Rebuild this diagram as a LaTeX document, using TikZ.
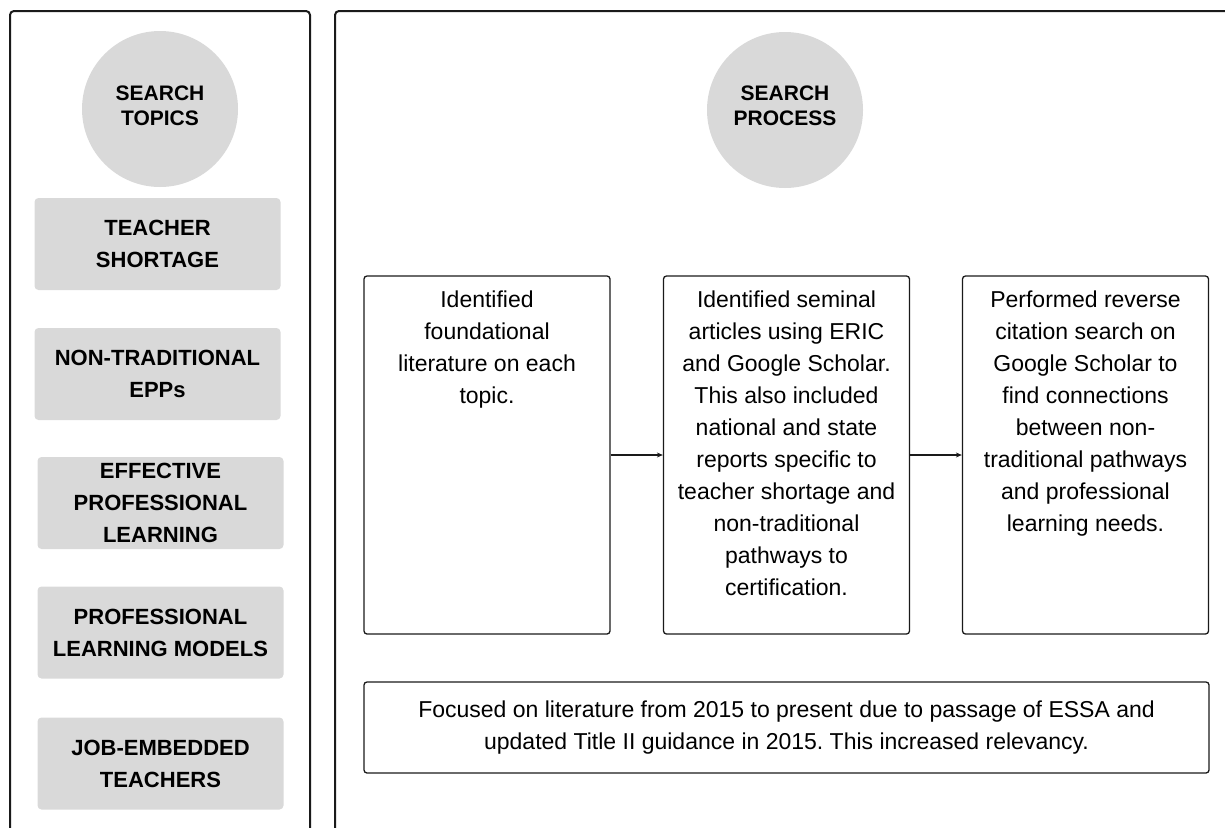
\documentclass[tikz,border=0pt]{standalone}
\usepackage{fontspec}
\setmainfont{Liberation Sans}
\usetikzlibrary{arrows.meta}
\definecolor{boxgray}{HTML}{D9D9D9}
\definecolor{inkline}{HTML}{1A1A1A}
\frenchspacing
\begin{document}
\begin{tikzpicture}[x=1pt,y=-1pt,
  panel/.style={draw=inkline, line width=2pt, rounded corners=4pt},
  topic/.style={fill=boxgray, rounded corners=4pt, minimum width=246pt, minimum height=92pt, align=center, inner sep=0pt, font=\bfseries\fontsize{22}{32}\selectfont},
  hub/.style={circle, fill=boxgray, minimum size=156pt, inner sep=0pt},
  hubtext/.style={align=center, inner sep=0pt, font=\bfseries\fontsize{21}{25}\selectfont},
  stepbox/.style={draw=inkline, line width=1.3pt, rounded corners=3pt, minimum width=246pt, minimum height=358pt, inner sep=0pt},
  notebox/.style={draw=inkline, line width=1.3pt, rounded corners=3pt, minimum width=845pt, minimum height=91pt, inner sep=0pt, align=center, font=\fontsize{23}{32}\selectfont},
  body/.style={align=center, inner sep=0pt, anchor=north, font=\fontsize{23}{32}\selectfont},
  flow/.style={draw=inkline, line width=1.2pt, -{Stealth[length=6pt,width=5pt]}}
]
\useasboundingbox (0,0) rectangle (1225,827);

% panels
\draw[panel] (10,830) -- (10,11) -- (310,11) -- (310,830);
\draw[panel] (335,830) -- (335,11) -- (1235,11);

% hubs
\node[hub] (topics) at (160,109) {};
\node[hubtext] (topicsT) at ([yshift=3.5pt]topics.center) {SEARCH\\TOPICS};
\node[hub] (process) at (785,110) {};
\node[hubtext] (processT) at ([yshift=4pt]process.center) {SEARCH\\PROCESS};

% topic boxes
\node[topic] (t1) at (157.5,244) {TEACHER\\SHORTAGE};
\node[topic] (t2) at (157.5,374) {NON-TRADITIONAL\\EPPs};
\node[topic] (t3) at (160.5,503) {EFFECTIVE\\PROFESSIONAL\\LEARNING};
\node[topic] (t4) at (160.5,632.5) {PROFESSIONAL\\LEARNING MODELS};
\node[topic] (t5) at (160.5,763.5) {JOB-EMBEDDED\\TEACHERS};

% step boxes
\node[stepbox] (s1) at (487,455) {};
\node[stepbox] (s2) at (786.5,455) {};
\node[stepbox] (s3) at (1085.5,455) {};

\node[body] (s1t) at ([yshift=-15pt]s1.north) {Identified\\foundational\\literature on each\\topic.};
\node[body] (s2t) at ([yshift=-15pt]s2.north) {Identified seminal\\articles using ERIC\\and Google Scholar.\\This also included\\national and state\\reports specific to\\teacher shortage and\\non-traditional\\pathways to\\certification.};
\node[body] (s3t) at ([yshift=-15pt]s3.north) {Performed reverse\\citation search on\\Google Scholar to\\find connections\\between non-\\traditional pathways\\and professional\\learning needs.};

\draw[flow] (s1.east) -- (s2.west);
\draw[flow] (s2.east) -- (s3.west);

% note
\node[notebox] (note) at (786.5,727.5) {Focused on literature from 2015 to present due to passage of ESSA and\\updated Title II guidance in 2015. This increased relevancy.};
\end{tikzpicture}
\end{document}
